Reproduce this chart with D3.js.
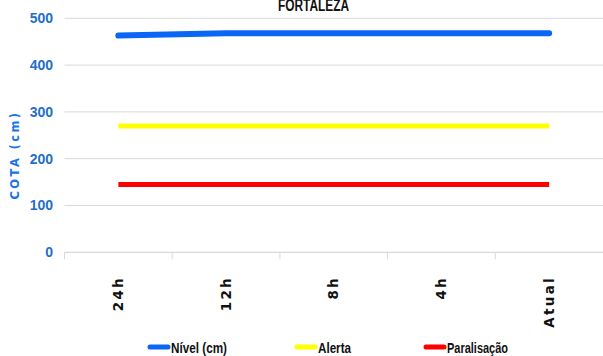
<!DOCTYPE html>
<html>
<head>
<meta charset="utf-8">
<script src="https://cdn.jsdelivr.net/npm/d3@7"></script>
<style>
  html, body { margin: 0; padding: 0; background: #fff; }
  svg { display: block; }
</style>
</head>
<body>
<svg id="chart" width="603" height="356"></svg>
<script>
// Water level at Fortaleza station over the last 24 hours
const categories = ["24h", "12h", "8h", "4h", "Atual"];
const nivel = [463, 468, 468, 468, 468];
const alerta = [270, 270, 270, 270, 270];
const paralisacao = [145, 145, 145, 145, 145];
const yTicks = [0, 100, 200, 300, 400, 500];
const seriesNames = ["Nível (cm)", "Alerta", "Paralisação"];
const seriesColors = ["#0a66f5", "#ffff00", "#ff0000"];
const title = "FORTALEZA";
const yTitle = "COTA (cm)";

const svg = d3.select("#chart");
const plot = { left: 64.5, right: 603, top: 18.3, bottom: 252.3 };

const x = d3.scaleBand().domain(categories).range([plot.left, plot.right]);
const y = d3.scaleLinear().domain([0, 500]).range([plot.bottom, plot.top]);

const narrow = "'Liberation Sans Narrow', 'Arial Narrow', 'Liberation Sans', sans-serif";
const wide = "'DejaVu Sans', Verdana, sans-serif";

// horizontal gridlines
svg.append("g")
  .selectAll("line")
  .data(yTicks)
  .join("line")
  .attr("x1", plot.left).attr("x2", plot.right)
  .attr("y1", d => y(d)).attr("y2", d => y(d))
  .attr("stroke", "#d9d9d9").attr("stroke-width", 1);

// y tick labels
svg.append("g")
  .selectAll("text")
  .data(yTicks)
  .join("text")
  .attr("x", 53).attr("y", d => y(d))
  .attr("dy", "0.35em")
  .attr("text-anchor", "end")
  .attr("font-family", narrow)
  .attr("font-weight", "bold")
  .attr("font-size", 14)
  .attr("fill", "#1f6fc8")
  .text(d => d);

// y axis title
svg.append("text")
  .attr("transform", "translate(19,155) rotate(-90)")
  .attr("text-anchor", "middle")
  .attr("font-family", wide)
  .attr("font-weight", "bold")
  .attr("font-size", 11.5)
  .attr("letter-spacing", 2.4)
  .attr("fill", "#1a73e8")
  .text(yTitle);

// category axis with band boundary ticks
const xAxis = svg.append("g");
xAxis.append("line")
  .attr("x1", plot.left).attr("x2", plot.right)
  .attr("y1", plot.bottom).attr("y2", plot.bottom)
  .attr("stroke", "#d9d9d9");
xAxis.selectAll("line.tick")
  .data(categories)
  .join("line")
  .attr("class", "tick")
  .attr("x1", d => x(d)).attr("x2", d => x(d))
  .attr("y1", plot.bottom).attr("y2", plot.bottom + 7)
  .attr("stroke", "#d9d9d9");
xAxis.selectAll("text")
  .data(categories)
  .join("text")
  .attr("transform", d => `translate(${x(d) + x.bandwidth() / 2 + 4.5},276) rotate(-90)`)
  .attr("text-anchor", "end")
  .attr("font-family", wide)
  .attr("font-weight", "bold")
  .attr("font-size", 13.5)
  .attr("letter-spacing", 2.3)
  .attr("fill", "#111")
  .text(d => d);

// series lines
const series = [nivel, alerta, paralisacao];
const widths = [6, 5, 5];
const line = d3.line()
  .x((d, i) => x(categories[i]) + x.bandwidth() / 2)
  .y(d => y(d));
svg.append("g")
  .selectAll("path")
  .data(series)
  .join("path")
  .attr("d", line)
  .attr("fill", "none")
  .attr("stroke", (d, i) => seriesColors[i])
  .attr("stroke-width", (d, i) => widths[i])
  .attr("stroke-linecap", (d, i) => i === 0 ? "round" : "butt")
  .attr("stroke-linejoin", "round");

// title
svg.append("text")
  .attr("x", 278).attr("y", 11)
  .attr("font-family", narrow)
  .attr("font-weight", "bold")
  .attr("font-size", 16)
  .attr("textLength", 71)
  .attr("lengthAdjust", "spacingAndGlyphs")
  .attr("fill", "#111")
  .text(title);

// legend
const legendX = [150, 297, 426];
const legendTextW = [56, 33, 61];
const lg = svg.append("g")
  .selectAll("g")
  .data(seriesNames)
  .join("g")
  .attr("transform", (d, i) => `translate(${legendX[i]},347)`);
lg.append("line")
  .attr("x1", 0).attr("x2", 18)
  .attr("y1", 0).attr("y2", 0)
  .attr("stroke", (d, i) => seriesColors[i])
  .attr("stroke-width", 5)
  .attr("stroke-linecap", "round");
lg.append("text")
  .attr("x", 21)
  .attr("y", 0)
  .attr("dy", "0.36em")
  .attr("font-family", narrow)
  .attr("font-weight", "bold")
  .attr("font-size", 15.5)
  .attr("textLength", (d, i) => legendTextW[i])
  .attr("lengthAdjust", "spacingAndGlyphs")
  .attr("fill", "#111")
  .text(d => d);
</script>
</body>
</html>
